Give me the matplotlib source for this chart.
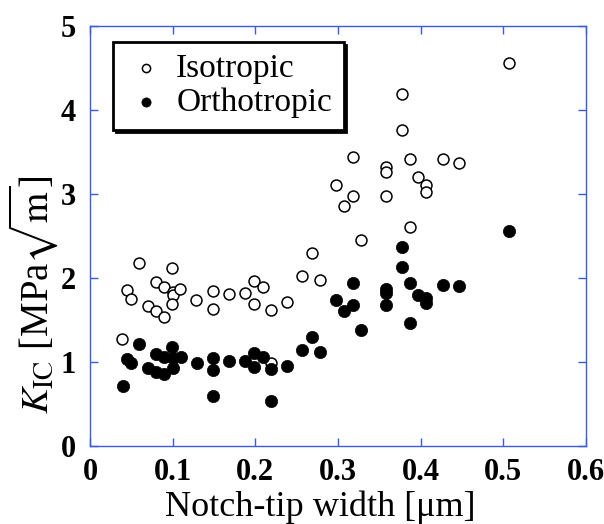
import matplotlib
matplotlib.use("Agg")
import matplotlib.pyplot as plt

plt.rcParams['font.family'] = ['Liberation Serif', 'DejaVu Serif']
plt.rcParams['mathtext.fontset'] = 'stix'

iso_x = [0.039, 0.045, 0.050, 0.059, 0.070, 0.080, 0.080, 0.089, 0.090, 0.099,
         0.100, 0.100, 0.099, 0.109, 0.128, 0.149, 0.149, 0.168, 0.188, 0.198,
         0.209, 0.198, 0.219, 0.219, 0.238, 0.257, 0.268, 0.278, 0.297, 0.307,
         0.318, 0.318, 0.328, 0.358, 0.358, 0.358, 0.377, 0.377, 0.387, 0.387,
         0.397, 0.407, 0.407, 0.427, 0.446, 0.507]
iso_y = [1.27, 1.86, 1.75, 2.18, 1.67, 1.95, 1.61, 1.89, 1.54, 2.12,
         1.83, 1.80, 1.69, 1.87, 1.74, 1.85, 1.63, 1.81, 1.82, 1.96,
         1.89, 1.69, 1.62, 0.99, 1.71, 2.02, 2.30, 1.98, 3.11, 2.86,
         2.98, 3.44, 2.45, 3.32, 3.26, 2.98, 4.19, 3.76, 3.42, 2.61,
         3.20, 3.11, 3.02, 3.42, 3.37, 4.56]

ort_x = [0.040, 0.045, 0.050, 0.059, 0.070, 0.080, 0.080, 0.090, 0.090, 0.099,
         0.100, 0.100, 0.110, 0.129, 0.149, 0.149, 0.149, 0.168, 0.188, 0.198,
         0.209, 0.198, 0.219, 0.219, 0.238, 0.257, 0.268, 0.278, 0.297, 0.307,
         0.318, 0.318, 0.328, 0.358, 0.358, 0.358, 0.377, 0.377, 0.387, 0.387,
         0.397, 0.407, 0.407, 0.427, 0.446, 0.507]
ort_y = [0.71, 1.03, 0.99, 1.22, 0.93, 0.88, 1.10, 0.86, 1.06, 1.18,
         1.05, 0.93, 1.06, 0.99, 1.05, 0.91, 0.59, 1.01, 1.01, 1.11,
         1.06, 0.94, 0.92, 0.53, 0.95, 1.14, 1.30, 1.12, 1.74, 1.61,
         1.68, 1.94, 1.38, 1.87, 1.82, 1.68, 2.37, 2.13, 1.94, 1.46,
         1.80, 1.76, 1.70, 1.92, 1.90, 2.56]

xticks = [0, 0.1, 0.2, 0.3, 0.4, 0.5, 0.6]
xticklabels = ['0', '0.1', '0.2', '0.3', '0.4', '0.5', '0.6']
yticks = [0, 1, 2, 3, 4, 5]
yticklabels = ['0', '1', '2', '3', '4', '5']

blue = '#3b5bdb'

fig = plt.figure(figsize=(6.04, 5.24), dpi=100)
ax = fig.add_axes([90/604, 78/524, 496/604, 420/524])

ax.scatter(iso_x, iso_y, s=62, facecolor='white', edgecolor='black',
           linewidth=1.1, zorder=3, label='Isotropic')
ax.scatter(ort_x, ort_y, s=78, facecolor='black', edgecolor='black',
           linewidth=0.5, zorder=4, label='Orthotropic')

ax.set_xlim(0, 0.6)
ax.set_ylim(0, 5)
ax.set_xticks(xticks)
ax.set_xticklabels(xticklabels, fontweight='bold', fontsize=22)
ax.set_yticks(yticks)
ax.set_yticklabels(yticklabels, fontweight='bold', fontsize=22)
ax.tick_params(axis='x', direction='in', length=6, width=1, color=blue,
               top=True, pad=9)
ax.tick_params(axis='y', direction='in', length=6, width=1, color=blue,
               right=True, pad=10)
for sp in ax.spines.values():
    sp.set_color(blue)
    sp.set_linewidth(1)

ax.set_xlabel('Notch-tip width [μm]', fontsize=26)
ax.xaxis.set_label_coords(0.465, -0.105)
ax.set_ylabel(r'$K_{\mathrm{IC}}$ [MPa$\sqrt{\mathrm{m}}$]', fontsize=28)
ax.yaxis.set_label_coords(-0.06, 0.36)

leg = ax.legend(loc='upper left', bbox_to_anchor=(0.046, 0.962),
                borderaxespad=0, fancybox=False, shadow={'color': 'black', 'alpha': 1},
                fontsize=24, markerscale=0.75, handletextpad=0.25,
                borderpad=0.35, labelspacing=0.1, handlelength=1.3)
leg.get_frame().set_edgecolor('black')
leg.get_frame().set_linewidth(2)
leg.get_frame().set_alpha(1)

fig.savefig('out.png', dpi=100)
